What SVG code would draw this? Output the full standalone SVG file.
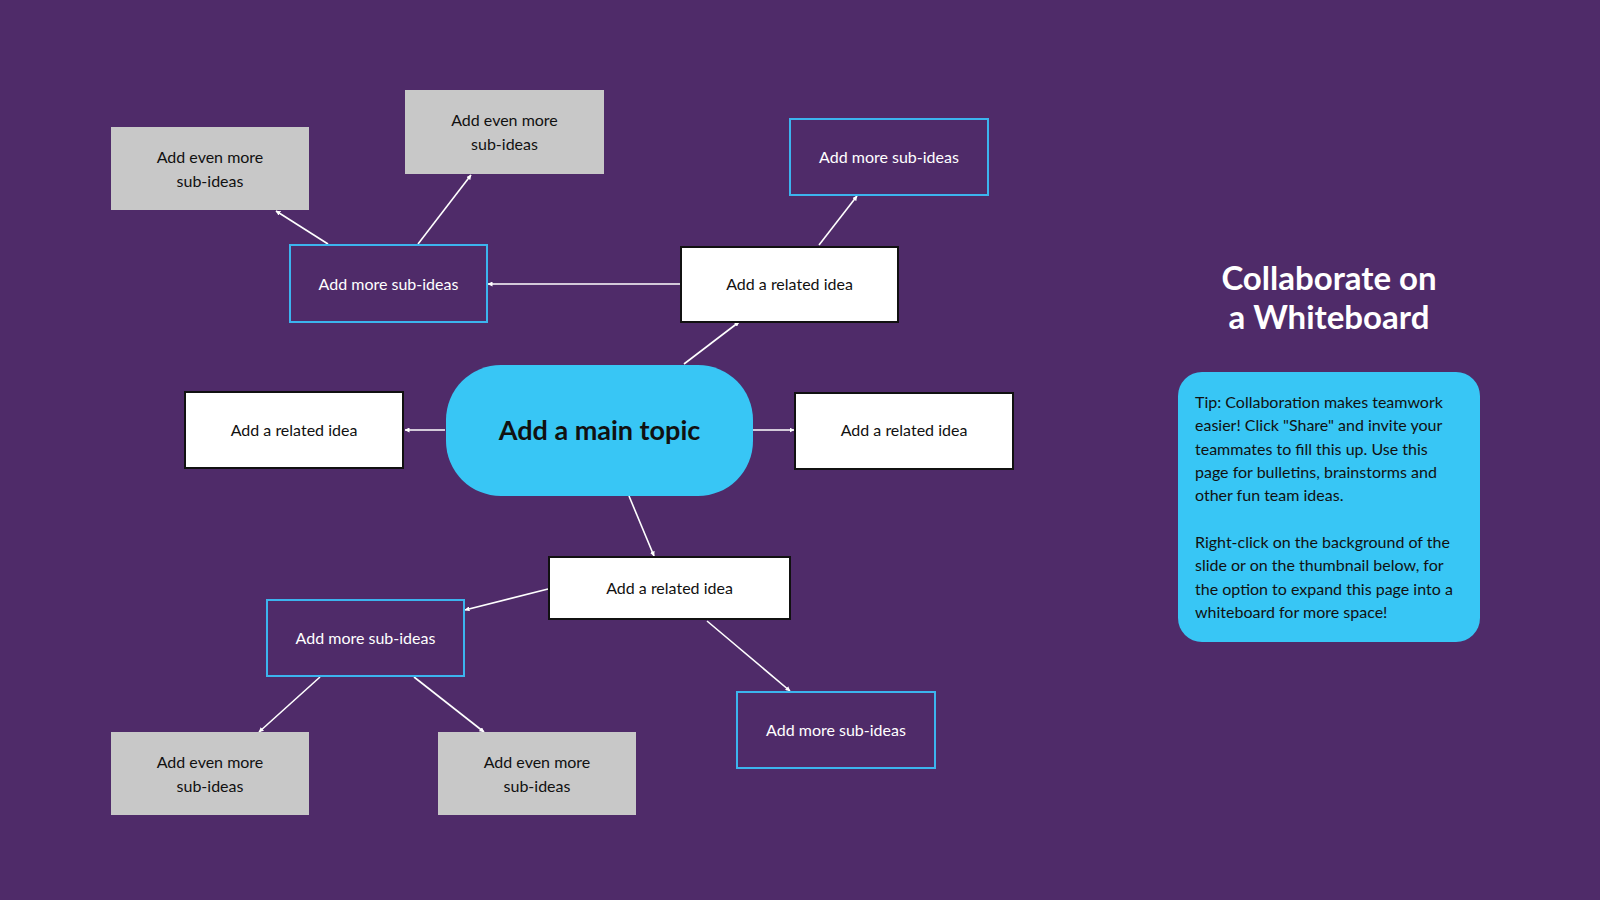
<svg xmlns="http://www.w3.org/2000/svg" width="1600" height="900" viewBox="0 0 1600 900">
<defs>
<marker id="ah" viewBox="0 0 10 10" refX="9" refY="5" markerWidth="5" markerHeight="5" orient="auto-start-reverse" markerUnits="userSpaceOnUse">
<path d="M0,0 L10,5 L0,10 z" fill="#ffffff"/>
</marker>
<style>
text{font-family:Lato,"Open Sans","Liberation Sans",sans-serif;}
.white rect{fill:#ffffff;stroke:#111111;stroke-width:2;}
.white text{fill:#111111;font-size:16px;text-anchor:middle;}
.blue rect{fill:none;stroke:#3cb4ee;stroke-width:2;}
.blue text{fill:#ffffff;font-size:16px;text-anchor:middle;}
.gray rect{fill:#c8c8c8;stroke:none;}
.gray text{fill:#111111;font-size:16px;text-anchor:middle;}
.conn line{stroke:#ffffff;stroke-width:1.6;marker-end:url(#ah);}
</style>
</defs>
<rect x="0" y="0" width="1600" height="900" fill="#4f2b69"/>

<g id="connectors" class="conn">
<line x1="684" y1="364" x2="739" y2="322"/>
<line x1="680" y1="284" x2="488" y2="284"/>
<line x1="819" y1="245" x2="857" y2="196"/>
<line x1="328" y1="244" x2="276" y2="211"/>
<line x1="418" y1="244" x2="471" y2="175"/>
<line x1="445" y1="430" x2="405" y2="430"/>
<line x1="753" y1="430" x2="794" y2="430"/>
<line x1="629" y1="496" x2="654" y2="556"/>
<line x1="548" y1="589" x2="465" y2="610"/>
<line x1="707" y1="621" x2="790" y2="691"/>
<line x1="320" y1="677" x2="259" y2="732"/>
<line x1="414" y1="677" x2="484" y2="732"/>
</g>

<g id="main-topic">
<rect x="446" y="365" width="307" height="131" rx="55" ry="55" fill="#38c6f5"/>
<text x="599.5" y="440" font-size="27" font-weight="bold" fill="#111111" text-anchor="middle">Add a main topic</text>
</g>

<g id="related-top" class="white">
<rect x="681" y="247" width="217" height="75"/>
<text x="789.5" y="290">Add a related idea</text>
</g>
<g id="related-left" class="white">
<rect x="185" y="392" width="218" height="76"/>
<text x="294" y="436">Add a related idea</text>
</g>
<g id="related-right" class="white">
<rect x="795" y="393" width="218" height="76"/>
<text x="904" y="436">Add a related idea</text>
</g>
<g id="related-bottom" class="white">
<rect x="549" y="557" width="241" height="62"/>
<text x="669.5" y="594">Add a related idea</text>
</g>

<g id="sub-top-left" class="blue">
<rect x="290" y="245" width="197" height="77"/>
<text x="388.5" y="290">Add more sub-ideas</text>
</g>
<g id="sub-top-right" class="blue">
<rect x="790" y="119" width="198" height="76"/>
<text x="889" y="163">Add more sub-ideas</text>
</g>
<g id="sub-bottom-left" class="blue">
<rect x="267" y="600" width="197" height="76"/>
<text x="365.5" y="644">Add more sub-ideas</text>
</g>
<g id="sub-bottom-right" class="blue">
<rect x="737" y="692" width="198" height="76"/>
<text x="836" y="736">Add more sub-ideas</text>
</g>

<g id="even-1" class="gray">
<rect x="111" y="127" width="198" height="83"/>
<text x="210" y="163">Add even more</text>
<text x="210" y="186.5">sub-ideas</text>
</g>
<g id="even-2" class="gray">
<rect x="405" y="90" width="199" height="84"/>
<text x="504.5" y="126">Add even more</text>
<text x="504.5" y="149.5">sub-ideas</text>
</g>
<g id="even-3" class="gray">
<rect x="111" y="732" width="198" height="83"/>
<text x="210" y="768">Add even more</text>
<text x="210" y="791.5">sub-ideas</text>
</g>
<g id="even-4" class="gray">
<rect x="438" y="732" width="198" height="83"/>
<text x="537" y="768">Add even more</text>
<text x="537" y="791.5">sub-ideas</text>
</g>

<g id="title">
<text x="1329" y="290" font-size="33" font-weight="bold" fill="#ffffff" text-anchor="middle">Collaborate on</text>
<text x="1329" y="329" font-size="33" font-weight="bold" fill="#ffffff" text-anchor="middle">a Whiteboard</text>
</g>

<g id="tip">
<rect x="1178" y="372" width="302" height="270" rx="24" ry="24" fill="#38c6f5"/>
<g font-size="16" fill="#111111">
<text x="1195" y="408">Tip: Collaboration makes teamwork</text>
<text x="1195" y="431.3">easier! Click "Share" and invite your</text>
<text x="1195" y="454.6">teammates to fill this up. Use this</text>
<text x="1195" y="477.9">page for bulletins, brainstorms and</text>
<text x="1195" y="501.2">other fun team ideas.</text>
<text x="1195" y="548">Right-click on the background of the</text>
<text x="1195" y="571.3">slide or on the thumbnail below, for</text>
<text x="1195" y="594.6">the option to expand this page into a</text>
<text x="1195" y="617.9">whiteboard for more space!</text>
</g>
</g>
</svg>
